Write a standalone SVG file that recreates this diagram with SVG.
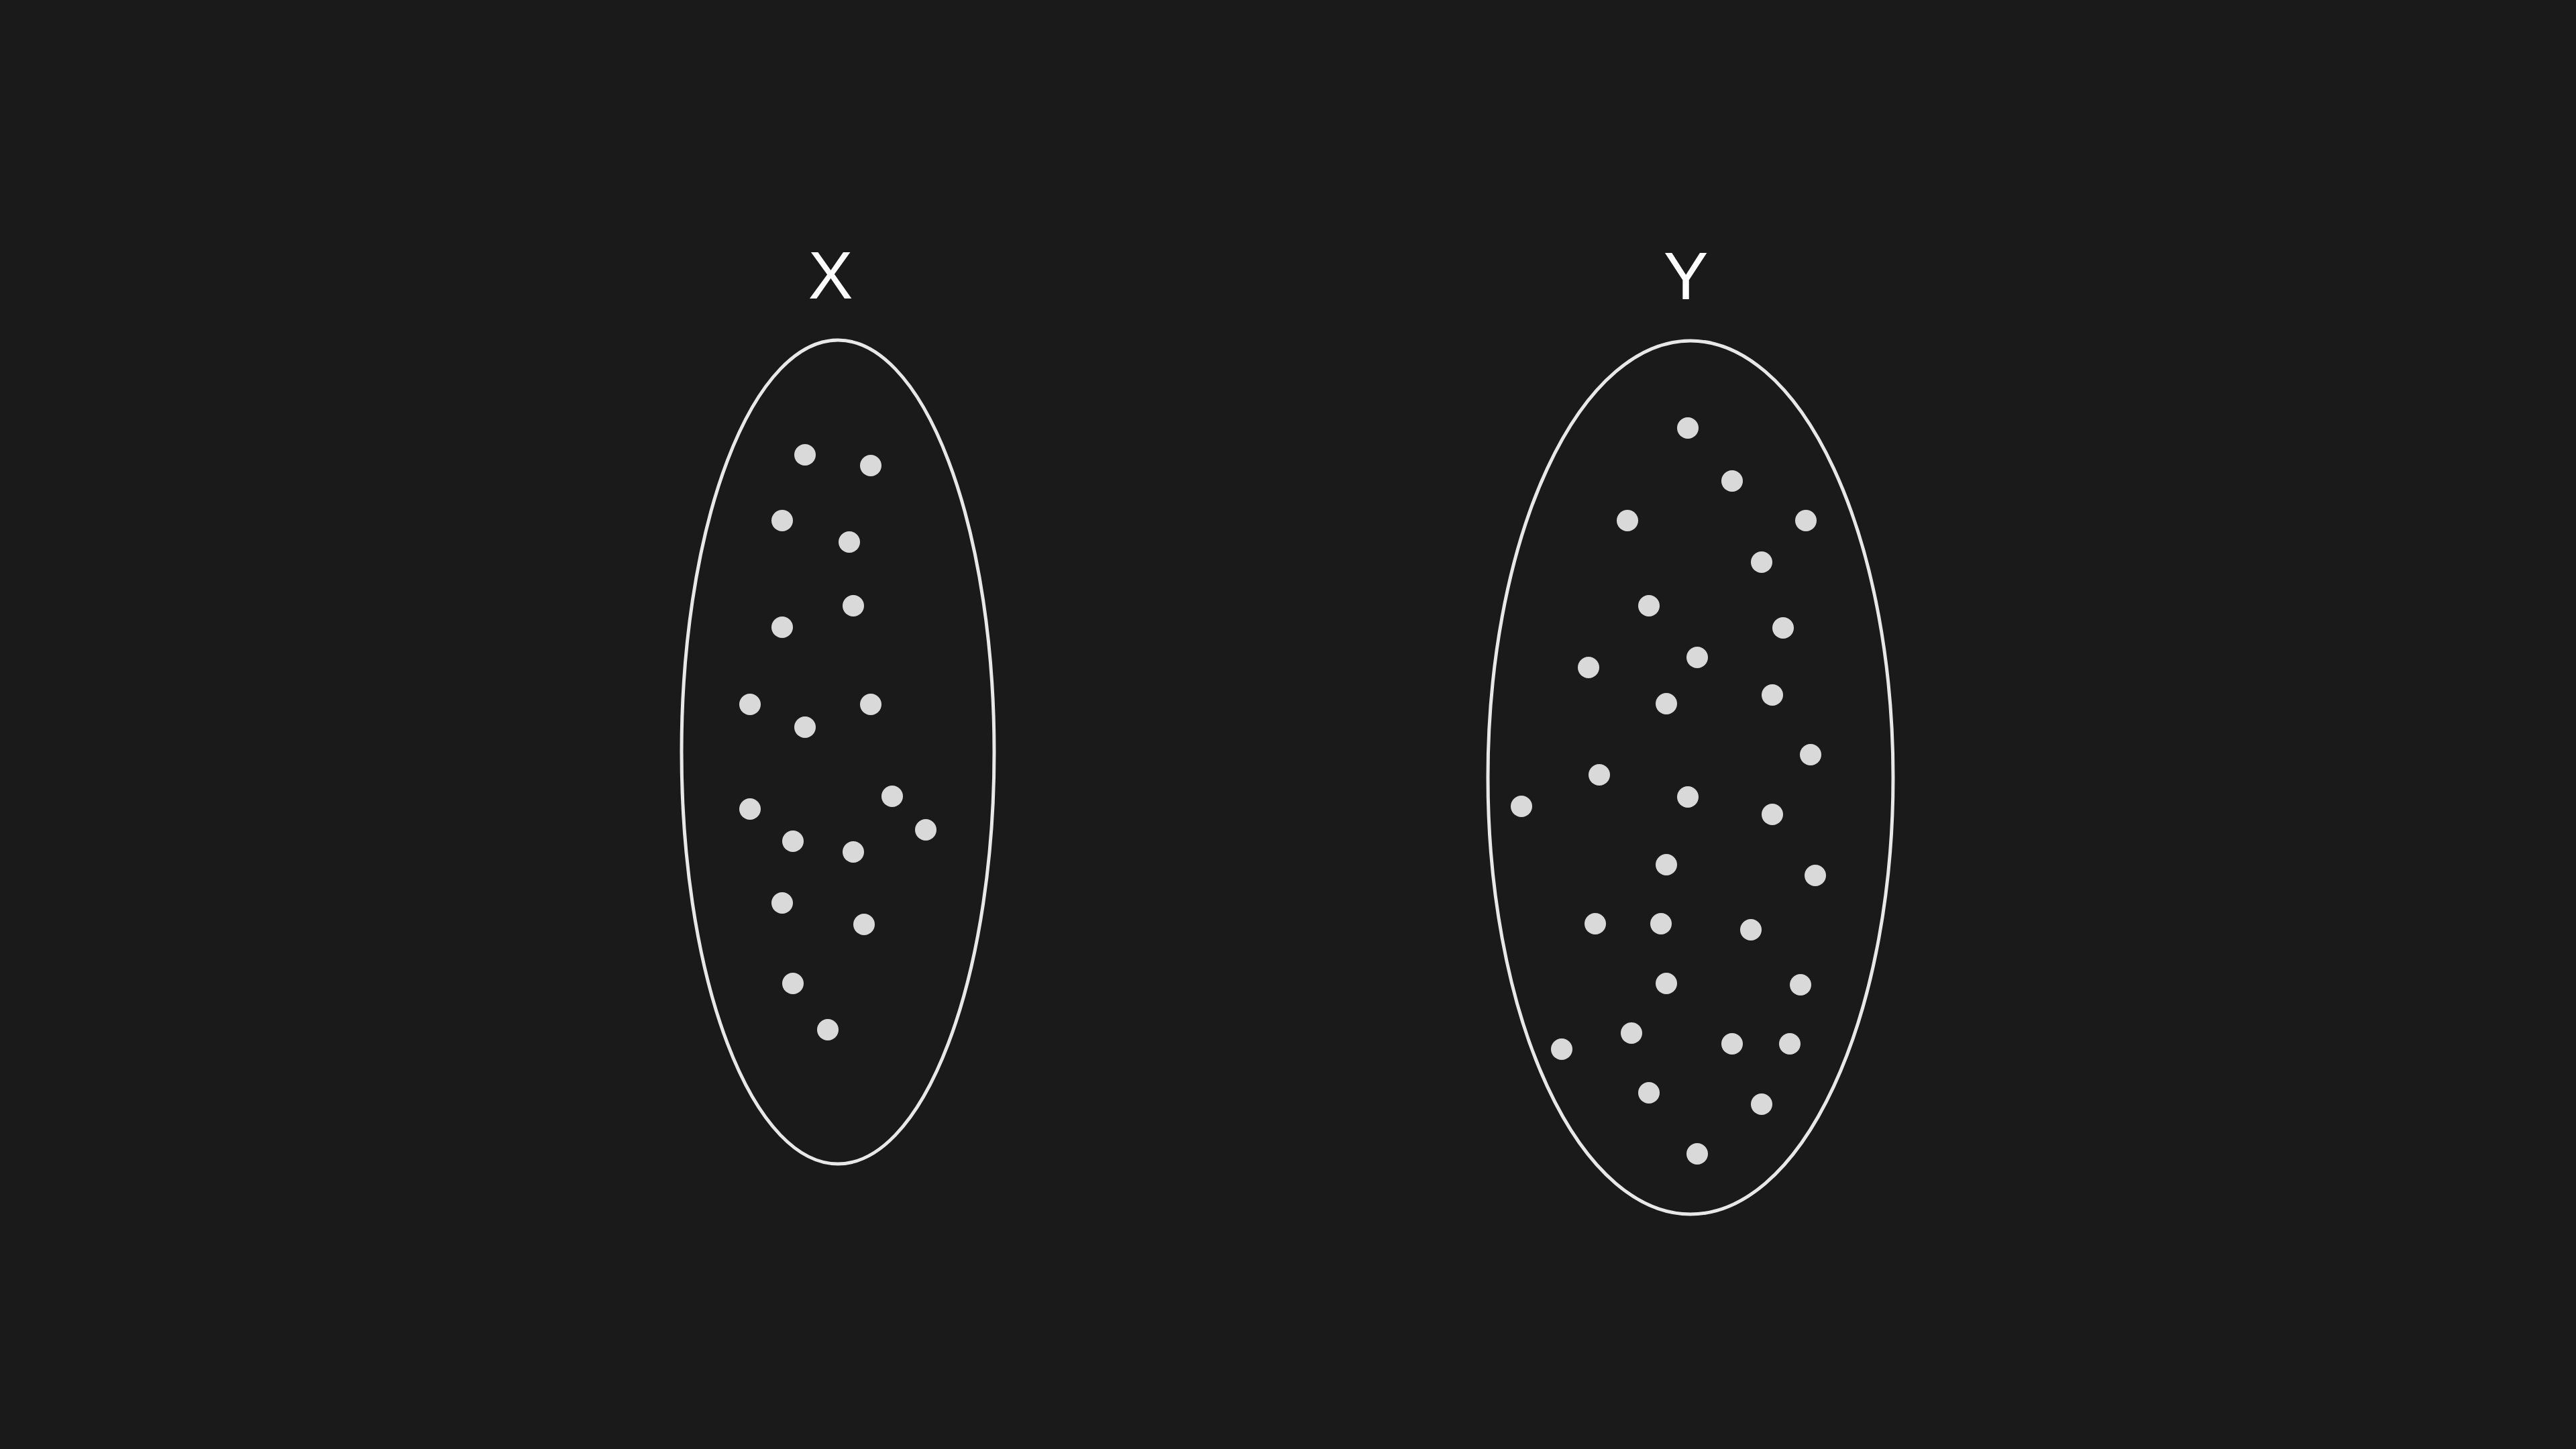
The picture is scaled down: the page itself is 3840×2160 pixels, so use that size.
<svg xmlns="http://www.w3.org/2000/svg" width="3840" height="2160" viewBox="0 0 3840 2160">
<style>
.set{fill:none;stroke:#e8e8e8;stroke-width:5}
.pt{fill:#d9d9d9}
.lbl{font-family:"Liberation Sans","Inter",Arial,sans-serif;font-size:100px;fill:#ffffff;text-anchor:middle}
</style>
<rect x="0" y="0" width="3840" height="2160" fill="#1a1a1a"/>
<g id="set-x">
<text class="lbl" x="1238" y="445">X</text>
<ellipse class="set" cx="1249" cy="1121" rx="233" ry="614"/>
<circle class="pt" cx="1200" cy="678" r="16"/>
<circle class="pt" cx="1298" cy="694" r="16"/>
<circle class="pt" cx="1166" cy="776" r="16"/>
<circle class="pt" cx="1266" cy="808" r="16"/>
<circle class="pt" cx="1272" cy="903" r="16"/>
<circle class="pt" cx="1166" cy="935" r="16"/>
<circle class="pt" cx="1118" cy="1050" r="16"/>
<circle class="pt" cx="1298" cy="1050" r="16"/>
<circle class="pt" cx="1200" cy="1084" r="16"/>
<circle class="pt" cx="1330" cy="1187" r="16"/>
<circle class="pt" cx="1118" cy="1206" r="16"/>
<circle class="pt" cx="1380" cy="1237" r="16"/>
<circle class="pt" cx="1182" cy="1254" r="16"/>
<circle class="pt" cx="1272" cy="1270" r="16"/>
<circle class="pt" cx="1166" cy="1346" r="16"/>
<circle class="pt" cx="1288" cy="1378" r="16"/>
<circle class="pt" cx="1182" cy="1466" r="16"/>
<circle class="pt" cx="1234" cy="1535" r="16"/>
</g>
<g id="set-y">
<text class="lbl" x="2513" y="446">Y</text>
<ellipse class="set" cx="2520" cy="1159" rx="302" ry="651"/>
<circle class="pt" cx="2516" cy="638" r="16"/>
<circle class="pt" cx="2582" cy="717" r="16"/>
<circle class="pt" cx="2426" cy="776" r="16"/>
<circle class="pt" cx="2692" cy="776" r="16"/>
<circle class="pt" cx="2626" cy="838" r="16"/>
<circle class="pt" cx="2458" cy="903" r="16"/>
<circle class="pt" cx="2658" cy="936" r="16"/>
<circle class="pt" cx="2530" cy="980" r="16"/>
<circle class="pt" cx="2368" cy="995" r="16"/>
<circle class="pt" cx="2484" cy="1049" r="16"/>
<circle class="pt" cx="2642" cy="1036" r="16"/>
<circle class="pt" cx="2699" cy="1125" r="16"/>
<circle class="pt" cx="2384" cy="1155" r="16"/>
<circle class="pt" cx="2268" cy="1202" r="16"/>
<circle class="pt" cx="2516" cy="1188" r="16"/>
<circle class="pt" cx="2642" cy="1214" r="16"/>
<circle class="pt" cx="2484" cy="1289" r="16"/>
<circle class="pt" cx="2706" cy="1305" r="16"/>
<circle class="pt" cx="2378" cy="1377" r="16"/>
<circle class="pt" cx="2476" cy="1377" r="16"/>
<circle class="pt" cx="2610" cy="1386" r="16"/>
<circle class="pt" cx="2484" cy="1466" r="16"/>
<circle class="pt" cx="2684" cy="1468" r="16"/>
<circle class="pt" cx="2432" cy="1540" r="16"/>
<circle class="pt" cx="2328" cy="1564" r="16"/>
<circle class="pt" cx="2582" cy="1556" r="16"/>
<circle class="pt" cx="2668" cy="1556" r="16"/>
<circle class="pt" cx="2458" cy="1629" r="16"/>
<circle class="pt" cx="2626" cy="1646" r="16"/>
<circle class="pt" cx="2530" cy="1720" r="16"/>
</g>
</svg>
